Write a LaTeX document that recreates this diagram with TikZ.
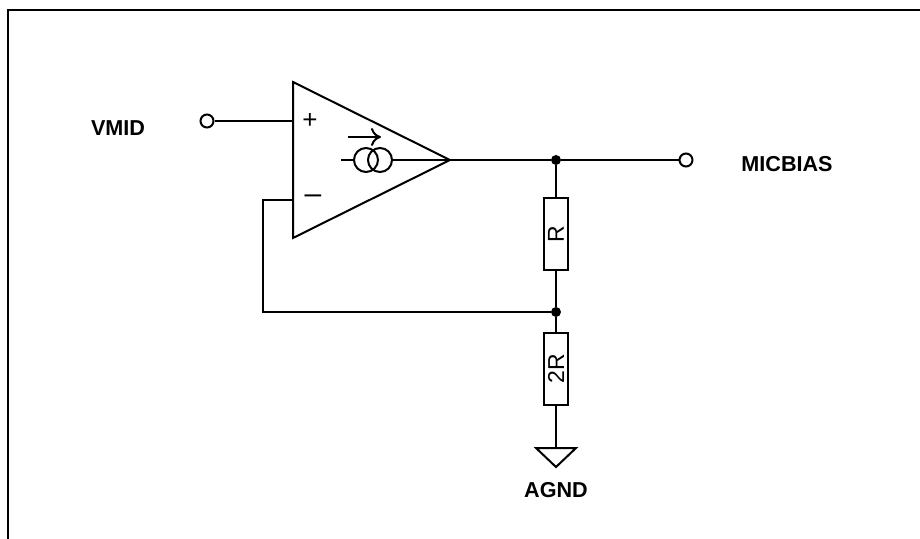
\documentclass[tikz,border=0pt]{standalone}
\usepackage{fontspec}
\setmainfont{Liberation Sans}
\usetikzlibrary{positioning,calc,arrows.meta}

\tikzset{
  wire/.style={line width=1pt},
  term/.style={draw, circle, line width=1pt, minimum size=6.5pt, inner sep=0pt, fill=white},
  jdot/.style={circle, fill, inner sep=0pt, minimum size=5pt},
  ring/.style={draw, circle, line width=1pt, minimum size=12pt, inner sep=0pt},
  res/.style={draw, line width=1pt, minimum width=36pt, minimum height=12pt, inner sep=0pt, rotate=90, font=\fontsize{11.5}{12}\selectfont},
  lbl/.style={font=\bfseries\fontsize{10.8}{12}\selectfont},
  sgn/.style={font=\fontsize{13}{13}\selectfont, inner sep=0pt},
}

\begin{document}
\begin{tikzpicture}[x=0.5pt, y=-0.5pt]
        \useasboundingbox (0,0) rectangle (920,539);
        \draw[line width=1pt] (8,539) -- (8,10) -- (920,10);

        % amplifier
        \draw[wire] (293,82) -- (293,238) -- (450,160) -- cycle;
        \coordinate (inp) at (293,121);
        \coordinate (inm) at (293,200);
        \coordinate (out) at (450,160);
        \node[sgn] (plus) at (310,121) {+};
        \node[sgn, font=\fontsize{15}{15}\selectfont] (minus) at (313,199) {–};

        \node[ring] (csa) at (366,160) {};
        \node[ring] (csb) at (380,160) {};
        \draw[wire] (csa.west) -- +(-12,0);
        \draw[wire] (csb.east) -- (out);
        \coordinate (arra) at (348,137);
        \coordinate (arrb) at (381,137);
        \draw[wire, -{To[length=5pt, width=9pt]}] (arra) -- (arrb);

        % terminals
        \node[term] (vmid) at (207,121) {};
        \node[lbl] (vmidl) at (118,128) {VMID};
        \node[term] (micb) at (686,160) {};
        \node[lbl] (micbl) at (787,164) {MICBIAS};

        % divider
        \node[jdot] (jtop) at (556,160) {};
        \node[res] (rone) at (556,234.5) {R};
        \node[jdot] (jmid) at (556,312) {};
        \node[res] (rtwo) at (556,369) {2R};
        \coordinate (gnd) at (556,448);
        \coordinate (fbx) at (263,200);

        \draw[wire] (vmid) -- (inp);
        \draw[wire] (out) -- (jtop) -- (micb);
        \draw[wire] (jtop) -- (rone);
        \draw[wire] (rone) -- (jmid) -- (rtwo);
        \draw[wire] (jmid) -| (fbx) -- (inm);
        \draw[wire] (rtwo) -- (gnd);
        \draw[wire] (gnd) +(-20,0) -- +(20,0) -- +(0,19) -- cycle;
        \node[lbl] (agnd) at (556,490) {AGND};
    \end{tikzpicture}
\end{document}
